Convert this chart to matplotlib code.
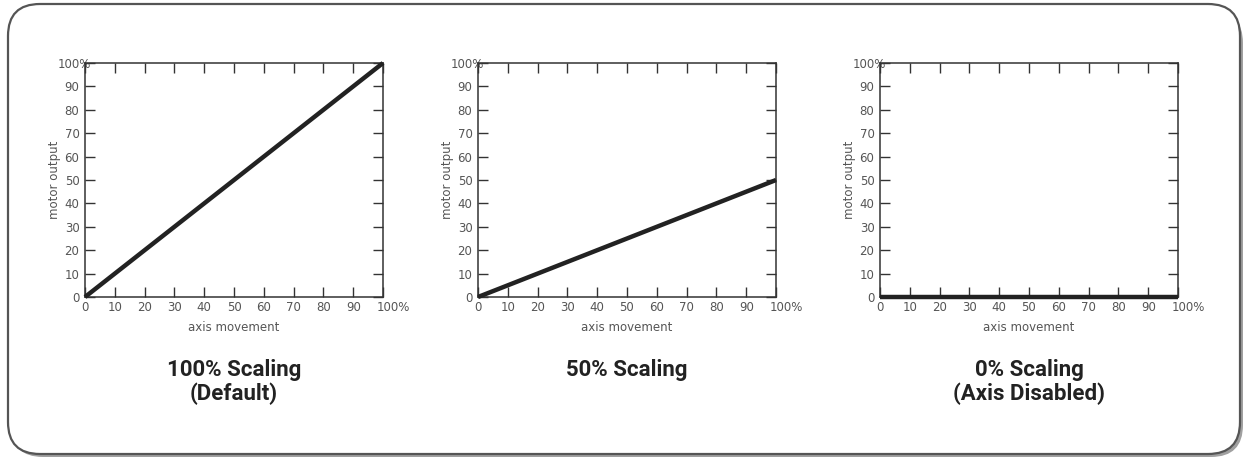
import matplotlib
matplotlib.use("Agg")
import matplotlib.pyplot as plt
from matplotlib.patches import FancyBboxPatch
from matplotlib.transforms import ScaledTranslation, IdentityTransform

plt.rcParams['font.family'] = 'DejaVu Sans'

# data
axis_movement = [0, 100]
output_100 = [0, 100]
output_50 = [0, 50]
output_0 = [0, 0]
series = [output_100, output_50, output_0]
titles = ["100% Scaling\n(Default)", "50% Scaling", "0% Scaling\n(Axis Disabled)"]
ticks = list(range(0, 101, 10))
tick_labels = [str(t) for t in ticks[:-1]] + ["100%"]

W, H = 1246, 458
fig = plt.figure(figsize=(W / 100, H / 100), dpi=100)

# rounded frame with a little shadow at the bottom right
shadow = FancyBboxPatch((11, 1), 1232, 446, boxstyle="round,pad=0,rounding_size=32",
                        transform=IdentityTransform(), facecolor="#a0a0a0",
                        edgecolor="none", zorder=0)
frame = FancyBboxPatch((8, 4), 1232, 450, boxstyle="round,pad=0,rounding_size=32",
                       transform=IdentityTransform(), facecolor="white",
                       edgecolor="#555555", linewidth=1.6, zorder=1)
fig.patches.extend([shadow, frame])

lefts = [85, 478, 880]
for left, ys, title in zip(lefts, series, titles):
    ax = fig.add_axes([left / W, 1 - 297 / H, 298 / W, 234 / H])
    ax.set_zorder(2)
    ax.plot(axis_movement, ys, color="#222222", linewidth=3.2, clip_on=False,
            solid_capstyle="butt", zorder=5)
    ax.set_xlim(0, 100)
    ax.set_ylim(0, 100)
    ax.set_xticks(ticks)
    ax.set_yticks(ticks)
    ax.set_xticklabels(tick_labels, family="DejaVu Sans")
    ax.set_yticklabels(tick_labels, family="DejaVu Sans")
    ax.tick_params(direction="in", length=7.5, width=1, color="#333333",
                   top=True, right=True, labelsize=8.5, labelcolor="#555555")
    ax.tick_params(axis="x", pad=3)
    ax.tick_params(axis="y", pad=4)
    for s in ax.spines.values():
        s.set_linewidth(1.1)
        s.set_color("#333333")
    # the "100%" labels sit a bit off their ticks
    xl = ax.get_xticklabels()[-1]
    xl.set_transform(xl.get_transform() + ScaledTranslation(10 / 100, 0, fig.dpi_scale_trans))
    yl = ax.get_yticklabels()[-1]
    yl.set_transform(yl.get_transform() + ScaledTranslation(12 / 100, 0, fig.dpi_scale_trans))
    ax.set_xlabel("axis movement", fontsize=8.5, color="#555555", labelpad=5,
                  family="DejaVu Sans")
    ax.set_ylabel("motor output", fontsize=8.5, color="#555555", labelpad=-2,
                  family="DejaVu Sans")
    ax.text(0.5, -0.265, title, transform=ax.transAxes, ha="center", va="top",
            fontsize=16, fontweight="bold", color="#222222", linespacing=1.1,
            family="Roboto")

fig.savefig("out.png", dpi=100)
